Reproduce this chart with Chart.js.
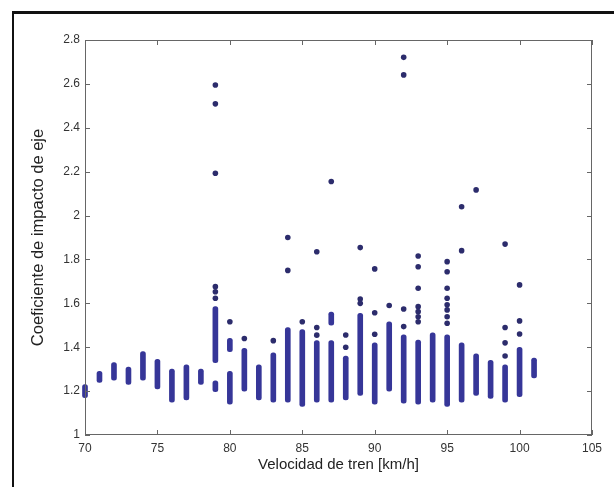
<!DOCTYPE html>
<html>
<head>
<meta charset="utf-8">
<script src="https://cdn.jsdelivr.net/npm/chart.js@4.4.0/dist/chart.umd.min.js"></script>
<style>
  html, body { margin: 0; padding: 0; background: #fff; }
  #wrap { width: 614px; height: 487px; position: relative; }
</style>
</head>
<body>
<div id="wrap"><canvas id="coef-chart"></canvas></div>
<script>
// speeds (km/h) with their dense run of measured coefficients (low / high end)
const speeds    = [70, 71, 72, 73, 74, 75, 76, 77, 78, 79, 80, 81, 82, 83, 84, 85,
                   86, 87, 88, 89, 90, 91, 92, 93, 94, 95, 96, 97, 98, 99, 100, 101];
const denseLow  = [1.17, 1.24, 1.25, 1.23, 1.25, 1.21, 1.15, 1.16, 1.23, 1.33, 1.14, 1.20, 1.16, 1.15, 1.15, 1.13,
                   1.15, 1.15, 1.16, 1.18, 1.14, 1.20, 1.145, 1.14, 1.15, 1.13, 1.15, 1.18, 1.167, 1.15, 1.175, 1.26];
const denseHigh = [1.23, 1.29, 1.33, 1.31, 1.38, 1.345, 1.30, 1.32, 1.30, 1.585, 1.29, 1.395, 1.32, 1.375, 1.49, 1.48,
                   1.43, 1.43, 1.36, 1.555, 1.42, 1.516, 1.456, 1.433, 1.466, 1.456, 1.42, 1.37, 1.34, 1.32, 1.40, 1.35];

// second dense runs on a few speeds
const extraSpeeds = [79, 80, 87];
const extraLow    = [1.197, 1.38, 1.50];
const extraHigh   = [1.247, 1.44, 1.56];

// isolated points
const pointSpeeds = [79, 79, 79, 79, 79, 79, 80, 81, 83, 84, 84, 85, 86, 86, 86, 87, 88, 88,
                     89, 89, 89, 90, 90, 90, 91, 92, 92, 92, 92,
                     93, 93, 93, 93, 93, 93, 93,
                     95, 95, 95, 95, 95, 95, 95, 95,
                     96, 96, 97, 99, 99, 99, 99, 100, 100, 100];
const pointValues = [2.595, 2.509, 2.193, 1.676, 1.653, 1.623, 1.516, 1.44, 1.43, 1.90, 1.75, 1.516, 1.835, 1.49, 1.455, 2.155, 1.456, 1.40,
                     1.854, 1.62, 1.60, 1.757, 1.557, 1.459, 1.59, 2.721, 2.641, 1.574, 1.494,
                     1.816, 1.767, 1.669, 1.585, 1.562, 1.539, 1.516,
                     1.79, 1.744, 1.669, 1.623, 1.593, 1.570, 1.539, 1.509,
                     2.04, 1.84, 2.117, 1.87, 1.49, 1.42, 1.36, 1.684, 1.52, 1.46];

const xTicks = [70, 75, 80, 85, 90, 95, 100, 105];
const yTicks = [1, 1.2, 1.4, 1.6, 1.8, 2, 2.2, 2.4, 2.6, 2.8];
const yTickLabels = ['1', '1.2', '1.4', '1.6', '1.8', '2', '2.2', '2.4', '2.6', '2.8'];

const barColor = 'rgb(54, 54, 152)';
const dotColor = 'rgb(44, 44, 108)';

// matlab style box with inward ticks, plus the figure frame lines
const axesBox = {
    id: 'axesBox',
    afterDraw(chart) {
        const ctx = chart.ctx;
        const a = chart.chartArea;
        const sx = chart.scales.x, sy = chart.scales.y;
        ctx.save();
        ctx.strokeStyle = '#666';
        ctx.lineWidth = 1;
        ctx.strokeRect(a.left + 0.5, a.top + 0.5, a.right - a.left - 1, a.bottom - a.top - 1);
        ctx.beginPath();
        xTicks.forEach(v => {
            const px = Math.round(sx.getPixelForValue(v)) + 0.5;
            ctx.moveTo(px, a.bottom); ctx.lineTo(px, a.bottom - 5);
            ctx.moveTo(px, a.top); ctx.lineTo(px, a.top + 5);
        });
        yTicks.forEach(v => {
            const py = Math.round(sy.getPixelForValue(v)) + 0.5;
            ctx.moveTo(a.left, py); ctx.lineTo(a.left + 5, py);
            ctx.moveTo(a.right, py); ctx.lineTo(a.right - 5, py);
        });
        ctx.stroke();
        ctx.fillStyle = '#111';
        ctx.fillRect(12, 11, 602, 3);
        ctx.fillRect(12, 11, 2, 476);
        ctx.restore();
    }
};

const data = {
    datasets: [{
        type: 'bar',
        data: speeds.map((s, i) => ({x: s, y: [denseLow[i], denseHigh[i]]})),
        backgroundColor: barColor,
        barThickness: 5,
        borderRadius: 3,
        borderSkipped: false,
        grouped: false,
        clip: 6
    }, {
        type: 'bar',
        data: extraSpeeds.map((s, i) => ({x: s, y: [extraLow[i], extraHigh[i]]})),
        backgroundColor: barColor,
        barThickness: 5,
        borderRadius: 3,
        borderSkipped: false,
        grouped: false,
        clip: 6
    }, {
        type: 'scatter',
        data: pointSpeeds.map((s, i) => ({x: s, y: pointValues[i]})),
        backgroundColor: dotColor,
        borderWidth: 0,
        pointRadius: 2.8,
        clip: 6
    }]
};

const config = {
    type: 'bar',
    data: data,
    options: {
        responsive: true,
        maintainAspectRatio: false,
        animation: false,
        layout: { padding: { left: 25, top: 40, right: 22, bottom: 9 } },
        plugins: {
            legend: { display: false },
            tooltip: { enabled: false }
        },
        scales: {
            x: {
                type: 'linear',
                min: 70,
                max: 105,
                offset: false,
                grid: { display: false, drawTicks: false },
                border: { display: false },
                afterBuildTicks: s => { s.ticks = xTicks.map(v => ({value: v})); },
                afterFit: s => { s.height = 43; },
                ticks: { color: '#333', font: { family: 'Liberation Sans', size: 12 }, padding: 6, maxRotation: 0 },
                title: {
                    display: true,
                    text: 'Velocidad de tren [km/h]',
                    color: '#222',
                    font: { family: 'Liberation Sans', size: 15 }
                }
            },
            y: {
                min: 1,
                max: 2.8,
                grid: { display: false, drawTicks: false },
                border: { display: false },
                afterBuildTicks: s => { s.ticks = yTicks.map(v => ({value: v})); },
                afterFit: s => { s.width = 60; },
                ticks: {
                    color: '#333',
                    font: { family: 'Liberation Sans', size: 12 },
                    padding: 5,
                    callback: (v, i) => yTickLabels[i]
                },
                title: {
                    display: true,
                    text: 'Coeficiente de impacto de eje',
                    color: '#222',
                    font: { family: 'Liberation Sans', size: 16.5 }
                }
            }
        }
    },
    plugins: [axesBox]
};

var context = document.getElementById('coef-chart').getContext('2d');
const myChart = new Chart(context, config);
</script>
</body>
</html>
